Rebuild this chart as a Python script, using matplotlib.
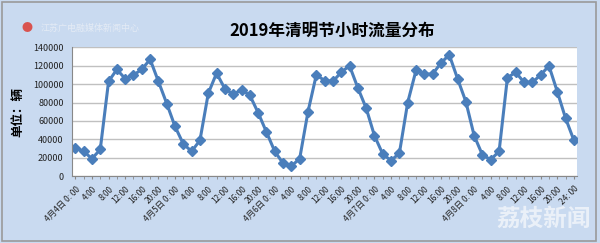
import matplotlib.pyplot as plt
import numpy as np
from matplotlib.patches import Rectangle

plt.rcParams['font.family'] = ['Noto Sans CJK SC', 'DejaVu Sans']

# traffic every 2 hours, 4/4 0:00 .. 4/8 24:00
flow = [31000, 27000, 19000, 29000, 103000, 116000, 106000, 110000, 116000, 127000, 103000, 79000,
        54000, 35000, 27000, 39000, 90000, 112000, 95000, 89000, 94000, 88000, 69000, 48000,
        27000, 14000, 11000, 19000, 70000, 110000, 104000, 103000, 113000, 120000, 96000, 74000,
        44000, 24000, 17000, 25000, 80000, 115000, 111000, 111000, 123000, 132000, 106000, 81000,
        44000, 23000, 18000, 27000, 107000, 113000, 102000, 102000, 110000, 120000, 92000, 63000,
        39000]
days = ["4月4日", "4月5日", "4月6日", "4月7日", "4月8日"]
hours = ["0: 00", "4:00", "8:00", "12:00", "16:00", "20:00"]

labels = []
for d in days:
    for h in hours:
        labels.append(d + " " + h if h == "0: 00" else h)
labels.append("24: 00")

bg = "#c9daf0"
fig = plt.figure(figsize=(6, 2.43), dpi=100, facecolor=bg)
fig.patches.append(Rectangle((0.004, 0.008), 0.99, 0.985, transform=fig.transFigure,
                             fill=False, edgecolor="#9a9a9a", lw=1.2))
ax = fig.add_axes([0.12, 0.275, 0.842, 0.53])
x = np.arange(len(flow))
ax.plot(x, flow, color="#4a7ebb", lw=2.2, marker="D", ms=5.5, mfc="#4a7ebb", mec="#4a7ebb")

ax.set_xlim(-0.4, len(flow) - 0.6)
ax.set_ylim(0, 140000)
ax.set_yticks(np.arange(0, 140001, 20000))
ax.tick_params(axis='y', labelsize=6.5, length=0, pad=6, colors="#222222")
ax.set_xticks(x[::2])
ax.set_xticks(x, minor=True)
ax.set_xticklabels(labels, rotation=45, ha='right', rotation_mode='anchor', fontsize=6, color="#222222")
ax.tick_params(axis='x', which='both', length=2.5, color="#888888")
ax.grid(axis='y', color="#c0c0c0", lw=1)
ax.set_axisbelow(True)
for s in ["top", "right"]:
    ax.spines[s].set_visible(False)
ax.spines["left"].set_color("#888888")
ax.spines["bottom"].set_color("#888888")

ax.set_ylabel("单位：辆", fontsize=9, fontweight='bold', labelpad=6)
fig.text(0.553, 0.875, "2019年清明节小时流量分布", ha='center', va='center', fontsize=12, fontweight='bold')
# watermarks
fig.text(0.045, 0.885, "●", ha='center', va='center', fontsize=8, color="#d9534f")
fig.text(0.068, 0.885, "江苏广电融媒体新闻中心", ha='left', va='center', fontsize=6.5, color="#e4ebf5")
fig.text(0.985, 0.1, "荔枝新闻", ha='right', va='center', fontsize=17, fontweight='bold', color="#eef3fa", alpha=0.9)

fig.savefig("out.png", dpi=100, facecolor=bg)
